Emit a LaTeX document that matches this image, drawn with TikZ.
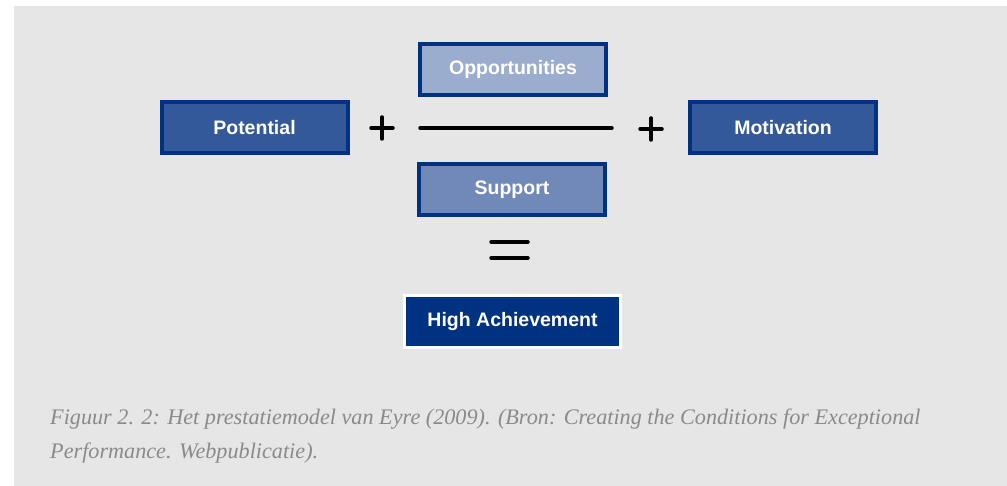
\documentclass[tikz,border=0pt]{standalone}
\usepackage{fontspec}
\setmainfont{Liberation Serif}
\newfontfamily\boxfont{Liberation Sans}[Scale=1]
\definecolor{bg}{HTML}{E6E6E6}
\definecolor{dkblue}{HTML}{003282}
\definecolor{midblue}{HTML}{33599A}
\definecolor{ltblue}{HTML}{9BADCF}
\definecolor{supblue}{HTML}{7089B9}
\definecolor{capgray}{HTML}{8A8A8A}
\begin{document}
\begin{tikzpicture}[x=1pt,y=-1pt,
  termbox/.style={draw=dkblue, line width=4pt, minimum width=186pt, minimum height=51pt,
    inner sep=0pt, text=white, font=\boxfont\bfseries\fontsize{19.5}{22}\selectfont},
  resultbox/.style={draw=white, fill=dkblue, line width=3pt, minimum width=216pt, minimum height=52pt,
    inner sep=0pt, text=white, font=\boxfont\bfseries\fontsize{19.5}{22}\selectfont},
  opline/.style={line width=3.5pt, line cap=round, black},
  captext/.style={anchor=base west, inner sep=0pt, text=capgray, font=\itshape\fontsize{22.2}{26}\selectfont}
]
\useasboundingbox (0,0) rectangle (1007,486);
\fill[white] (0,0) rectangle (1007,486);
\fill[bg] (14,6) rectangle (1007,486);

\node[termbox, fill=midblue] (pot) at (254.5,127.5) {Potential};
\node[termbox, fill=ltblue] (opp) at (513,69.5) {Opportunities};
\node[termbox, fill=supblue] (sup) at (512,189.5) {Support};
\node[termbox, fill=midblue] (mot) at (783,127.5) {Motivation};
\node[resultbox] (ach) at (512.5,321.5) {High Achievement};

% plus signs
\coordinate (p1) at (382,128);
\draw[opline] ([xshift=-11pt]p1) -- ([xshift=11pt]p1);
\draw[opline] ([yshift=-11pt]p1) -- ([yshift=11pt]p1);
\coordinate (p2) at (651,129);
\draw[opline] ([xshift=-11pt]p2) -- ([xshift=11pt]p2);
\draw[opline] ([yshift=-11pt]p2) -- ([yshift=11pt]p2);

% fraction bar
\coordinate (fl) at (420,128);
\coordinate (fr) at (612,128);
\draw[opline] (fl) -- (fr);

% equals
\coordinate (e1l) at (491,242);
\coordinate (e1r) at (528,242);
\coordinate (e2l) at (491,258);
\coordinate (e2r) at (528,258);
\draw[opline] (e1l) -- (e1r);
\draw[opline] (e2l) -- (e2r);

\node[captext] (cap1) at (50,424) {Figuur 2. 2: Het prestatiemodel van Eyre (2009). (Bron: Creating the Conditions for Exceptional};
\node[captext] (cap2) at (50,458) {Performance. Webpublicatie).};
\end{tikzpicture}
\end{document}
